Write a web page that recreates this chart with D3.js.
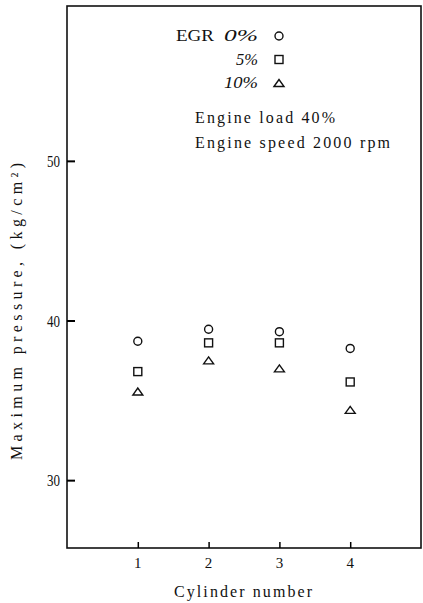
<!DOCTYPE html>
<html>
<head>
<meta charset="utf-8">
<script src="https://cdn.jsdelivr.net/npm/d3@7"></script>
<style>
  body { margin:0; background:#fff; }
  text { font-family: "Liberation Serif", "DejaVu Serif", serif; fill:#111; }
</style>
</head>
<body>
<div id="chart"></div>
<script>
// data
var cylinders = [1, 2, 3, 4];
var egr0  = [38.7, 39.45, 39.3, 38.25];
var egr5  = [36.8, 38.6, 38.6, 36.15];
var egr10 = [35.55, 37.5, 37.0, 34.4];
var yTicks = [30, 40, 50];
var series = [
  {name:"0%",  shape:"circle",   values:egr0},
  {name:"5%",  shape:"square",   values:egr5},
  {name:"10%", shape:"triangle", values:egr10}
];

var W = 423, H = 603;
var M = {left:67, top:6, right:2, bottom:55};

var svg = d3.select("#chart").append("svg")
  .attr("width", W).attr("height", H);

var x = d3.scaleLinear().domain([0, 5]).range([M.left, W - M.right]);
var y = d3.scaleLinear().domain([25.75, 59.7]).range([H - M.bottom, M.top]);

//frame
svg.append("rect")
  .attr("x", x(0)).attr("y", y(59.7))
  .attr("width", x(5) - x(0)).attr("height", y(25.75) - y(59.7))
  .style("fill", "none").style("stroke", "#111").style("stroke-width", 1.6);

//axes, ticks point inward
var yAxis = d3.axisRight(y).tickValues(yTicks).tickSize(8).tickFormat("");
svg.append("g").attr("transform", "translate(" + x(0) + ",0)").call(yAxis)
  .call(function(g){ g.select(".domain").remove(); g.selectAll("line").style("stroke-width", 2); });
svg.selectAll(".ylab").data(yTicks).enter().append("text")
  .attr("class", "ylab")
  .attr("x", x(0) - 7).attr("y", function(d){ return y(d) + 6; })
  .attr("text-anchor", "end").style("font-size", "17px")
  .attr("textLength", 13).attr("lengthAdjust", "spacingAndGlyphs")
  .text(function(d){ return d; });

var xAxis = d3.axisTop(x).tickValues(cylinders).tickSize(6).tickFormat("");
svg.append("g").attr("transform", "translate(0," + y(25.75) + ")").call(xAxis)
  .call(function(g){ g.select(".domain").remove(); g.selectAll("line").style("stroke-width", 1.5); });
svg.selectAll(".xlab").data(cylinders).enter().append("text")
  .attr("class", "xlab")
  .attr("x", function(d){ return x(d); }).attr("y", y(25.75) + 20)
  .attr("text-anchor", "middle").style("font-size", "15px")
  .text(function(d){ return d; });

svg.append("text")
  .attr("x", 174).attr("y", 597)
  .attr("textLength", 138).attr("lengthAdjust", "spacing")
  .style("font-size", "16px")
  .text("Cylinder number");

svg.append("text")
  .attr("transform", "translate(22,460) rotate(-90)")
  .attr("textLength", 297).attr("lengthAdjust", "spacing")
  .style("font-size", "16px")
  .text("Maximum pressure, (kg/cm²)");

//markers
function marker(sel, shape) {
  if (shape == "circle") {
    sel.append("circle").attr("r", 4);
  }
  else if (shape == "square") {
    sel.append("rect").attr("x", -4).attr("y", -4).attr("width", 8).attr("height", 8);
  }
  else {
    sel.append("path").attr("d", "M-5,3.5L0,-3.5L5,3.5Z");
  }
  sel.selectAll("circle,rect,path").style("fill", "none").style("stroke", "#111").style("stroke-width", 1.4);
}

series.forEach(function(s){
  svg.append("g").selectAll("g").data(s.values).enter().append("g")
    .attr("transform", function(d, i){ return "translate(" + x(cylinders[i]) + "," + y(d) + ")"; })
    .each(function(){ marker(d3.select(this), s.shape); });
});

//legend
var leg = svg.append("g");
leg.append("text").attr("x", 176).attr("y", 41).style("font-size", "16px")
  .attr("textLength", 38).attr("lengthAdjust", "spacingAndGlyphs").text("EGR");
var legW = [34, 22, 34];
series.forEach(function(s, i){
  var ly = 41 + i * 23.5;
  leg.append("text").attr("x", 258 - legW[i]).attr("y", ly)
    .attr("textLength", legW[i]).attr("lengthAdjust", "spacingAndGlyphs")
    .style("font-size", "16px").style("font-style", "italic").text(s.name);
  var g = leg.append("g").attr("transform", "translate(279," + (ly - 5) + ")");
  marker(g, s.shape);
});
leg.append("text").attr("x", 195).attr("y", 123).style("font-size", "16px")
  .attr("textLength", 140).attr("lengthAdjust", "spacing").text("Engine load 40%");
leg.append("text").attr("x", 195).attr("y", 148).style("font-size", "16px")
  .attr("textLength", 195).attr("lengthAdjust", "spacing").text("Engine speed 2000 rpm");
</script>
</body>
</html>
